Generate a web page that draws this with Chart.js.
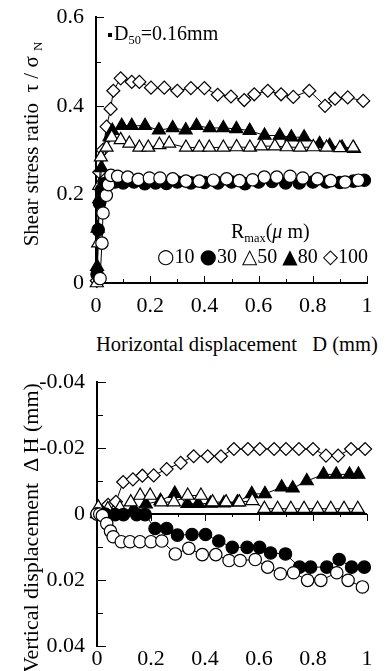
<!DOCTYPE html>
<html>
<head>
<meta charset="utf-8">
<script src="https://cdn.jsdelivr.net/npm/chart.js@4.4.1/dist/chart.umd.min.js"></script>
<style>
  html, body { margin: 0; padding: 0; background: #fff; }
  #wrap { position: relative; width: 392px; height: 671px; overflow: hidden;
          font-family: "Liberation Serif", "Times New Roman", serif; color: #000; }
  canvas { position: absolute; left: 0; }
  .lbl { position: absolute; white-space: nowrap; line-height: 1; font-size: 20px; }
  .rot { transform: translate(-50%, -50%) rotate(-90deg); }
  .sub { font-size: 62%; position: relative; top: 0.3em; }
  .sym { font-family: "DejaVu Sans", sans-serif; font-size: 20px; }
</style>
</head>
<body>
<div id="wrap">
  <canvas id="shear" width="392" height="330" style="top:0"></canvas>
  <canvas id="vert" width="392" height="311" style="top:360px"></canvas>

  <div class="lbl rot" style="left:31px; top:144px; font-size:21px;">Shear stress ratio&nbsp;&nbsp;τ&nbsp;/&nbsp;σ&nbsp;<span class="sub">N</span></div>
  <div class="lbl" style="left:108px; top:23px;"><span style="display:inline-block;width:4px;height:4px;background:#000;vertical-align:middle;margin-right:2px;"></span>D<span class="sub">50</span>=0.16mm</div>
  <div class="lbl" style="left:231px; top:221px;">R<span class="sub">max</span>(<i>μ</i> m)</div>
  <div class="lbl" id="legendRow" style="left:157px; top:246px;"></div>
  <div class="lbl" style="left:96px; top:334px; font-size:20.5px;">Horizontal displacement&nbsp;&nbsp;&nbsp;D (mm)</div>
  <div class="lbl rot" style="left:31px; top:528px; font-size:22px;">Vertical displacement&nbsp;&nbsp;Δ H (mm)</div>
</div>
<script>
// tick labels
const xLabels = ['0', '0.2', '0.4', '0.6', '0.8', '1'];
const shearLabels = ['0', '0.2', '0.4', '0.6'];
const vertLabels = ['-0.04', '-0.02', '0', '0.02', '0.04'];

// Rmax (um) series names
const rmaxValues = ['10', '30', '50', '80', '100'];
const legendGlyphs = ['○', '●', '△', '▲', '◇'];

// shear stress ratio vs horizontal displacement D (mm)
const shearD10 = [0.015, 0.022, 0.026, 0.038, 0.046, 0.055, 0.080, 0.117, 0.156, 0.197, 0.236, 0.283, 0.332, 0.381, 0.433, 0.482, 0.529, 0.578, 0.621, 0.667, 0.716, 0.763, 0.817, 0.866, 0.919, 0.968];
const shear10 = [0.010, 0.090, 0.158, 0.198, 0.222, 0.243, 0.241, 0.239, 0.234, 0.237, 0.237, 0.235, 0.230, 0.230, 0.232, 0.235, 0.231, 0.233, 0.239, 0.239, 0.241, 0.237, 0.235, 0.231, 0.228, 0.232];
const shearD30 = [0.004, 0.008, 0.013, 0.020, 0.030, 0.045, 0.070, 0.100, 0.140, 0.180, 0.220, 0.260, 0.300, 0.350, 0.400, 0.450, 0.500, 0.550, 0.600, 0.650, 0.700, 0.750, 0.800, 0.850, 0.900, 0.950, 0.990];
const shear30 = [0.020, 0.120, 0.180, 0.210, 0.224, 0.228, 0.228, 0.226, 0.228, 0.224, 0.226, 0.225, 0.228, 0.226, 0.227, 0.226, 0.228, 0.224, 0.228, 0.229, 0.226, 0.226, 0.228, 0.228, 0.227, 0.230, 0.232];
const shearD50 = [0.003, 0.008, 0.012, 0.018, 0.039, 0.058, 0.091, 0.123, 0.160, 0.193, 0.234, 0.270, 0.332, 0.381, 0.418, 0.470, 0.519, 0.568, 0.609, 0.660, 0.704, 0.753, 0.802, 0.851, 0.900, 0.949];
const shear50 = [0.000, 0.090, 0.220, 0.284, 0.306, 0.329, 0.323, 0.315, 0.306, 0.306, 0.312, 0.315, 0.306, 0.306, 0.306, 0.306, 0.307, 0.306, 0.309, 0.309, 0.307, 0.306, 0.307, 0.306, 0.305, 0.306];
const shearD80 = [0.004, 0.006, 0.012, 0.020, 0.050, 0.060, 0.095, 0.132, 0.181, 0.232, 0.283, 0.331, 0.371, 0.420, 0.470, 0.518, 0.567, 0.622, 0.678, 0.721, 0.768, 0.825, 0.862, 0.908, 0.952];
const shear80 = [0.037, 0.123, 0.190, 0.260, 0.330, 0.344, 0.355, 0.355, 0.355, 0.345, 0.350, 0.345, 0.355, 0.350, 0.350, 0.348, 0.344, 0.333, 0.333, 0.329, 0.329, 0.314, 0.310, 0.306, 0.303];
const shearD100 = [0.003, 0.012, 0.025, 0.039, 0.054, 0.064, 0.091, 0.132, 0.160, 0.203, 0.252, 0.300, 0.350, 0.400, 0.449, 0.498, 0.547, 0.584, 0.634, 0.683, 0.728, 0.787, 0.845, 0.882, 0.929, 0.986];
const shear100 = [0.005, 0.250, 0.300, 0.353, 0.393, 0.434, 0.462, 0.454, 0.454, 0.441, 0.441, 0.434, 0.440, 0.440, 0.425, 0.421, 0.413, 0.426, 0.434, 0.426, 0.420, 0.434, 0.400, 0.416, 0.419, 0.411];

// vertical displacement dH (mm) vs D (mm)
const vertD10 = [0.000, 0.010, 0.020, 0.036, 0.050, 0.060, 0.090, 0.122, 0.159, 0.200, 0.240, 0.290, 0.340, 0.390, 0.440, 0.489, 0.530, 0.586, 0.632, 0.679, 0.728, 0.780, 0.829, 0.888, 0.930, 0.983];
const vert10 = [0.0000, 0.0000, 0.0005, 0.0029, 0.0052, 0.0069, 0.0084, 0.0084, 0.0084, 0.0084, 0.0082, 0.0121, 0.0104, 0.0123, 0.0123, 0.0141, 0.0141, 0.0138, 0.0161, 0.0181, 0.0178, 0.0201, 0.0201, 0.0178, 0.0201, 0.0221];
const vertD30 = [0.000, 0.030, 0.067, 0.098, 0.147, 0.178, 0.215, 0.258, 0.298, 0.352, 0.402, 0.451, 0.501, 0.556, 0.602, 0.643, 0.698, 0.750, 0.791, 0.851, 0.897, 0.943, 0.990];
const vert30 = [0.0000, 0.0000, 0.0002, 0.0002, 0.0002, 0.0002, 0.0044, 0.0044, 0.0064, 0.0062, 0.0062, 0.0082, 0.0101, 0.0101, 0.0101, 0.0118, 0.0121, 0.0161, 0.0161, 0.0161, 0.0138, 0.0161, 0.0161];
const vertD50 = [0.005, 0.040, 0.085, 0.125, 0.160, 0.197, 0.238, 0.285, 0.336, 0.385, 0.428, 0.478, 0.527, 0.575, 0.620, 0.669, 0.718, 0.767, 0.817, 0.866, 0.915, 0.966];
const vert50 = [-0.0020, -0.0015, -0.0018, -0.0036, -0.0056, -0.0056, -0.0036, -0.0036, -0.0056, -0.0056, -0.0036, -0.0036, -0.0036, -0.0040, -0.0016, -0.0016, -0.0016, -0.0016, -0.0016, -0.0016, -0.0016, -0.0016];
const vertD80 = [0.000, 0.040, 0.090, 0.135, 0.181, 0.235, 0.288, 0.335, 0.375, 0.420, 0.470, 0.520, 0.573, 0.622, 0.684, 0.725, 0.777, 0.839, 0.886, 0.935, 0.968];
const vert80 = [0.0000, 0.0000, -0.0005, -0.0015, -0.0030, -0.0040, -0.0062, -0.0031, -0.0031, -0.0032, -0.0033, -0.0036, -0.0061, -0.0061, -0.0081, -0.0078, -0.0100, -0.0120, -0.0120, -0.0120, -0.0120];
const vertD100 = [0.000, 0.020, 0.041, 0.070, 0.097, 0.133, 0.168, 0.210, 0.258, 0.310, 0.358, 0.410, 0.459, 0.507, 0.559, 0.603, 0.656, 0.700, 0.748, 0.800, 0.848, 0.893, 0.941, 0.993];
const vert100 = [0.0000, -0.0005, -0.0028, -0.0037, -0.0097, -0.0105, -0.0116, -0.0117, -0.0136, -0.0155, -0.0175, -0.0175, -0.0175, -0.0197, -0.0197, -0.0197, -0.0197, -0.0197, -0.0197, -0.0197, -0.0177, -0.0177, -0.0197, -0.0197];

document.getElementById('legendRow').innerHTML = rmaxValues
  .map((v, i) => '<span class="sym">' + legendGlyphs[i] + '</span>' + v)
  .join(' ');

function pts(xs, ys) {
  return xs.map((x, i) => ({ x: x, y: ys[i] }));
}

// marker look per series: 10 open circle, 30 filled circle, 50 open triangle, 80 filled triangle, 100 open diamond
const styles = [
  { pointStyle: 'circle', fill: '#fff', radius: 6.2 },
  { pointStyle: 'circle', fill: '#000', radius: 6.2 },
  { pointStyle: 'triangle', fill: '#fff', radius: 7.5 },
  { pointStyle: 'triangle', fill: '#000', radius: 7.5 },
  { pointStyle: 'rectRot', fill: '#fff', radius: 6.5 }
];

function makeSets(series) {
  return series.map((s, i) => ({
    label: rmaxValues[i],
    data: s,
    showLine: true,
    borderColor: '#000',
    borderWidth: 1,
    tension: 0,
    pointStyle: styles[i].pointStyle,
    pointRadius: styles[i].radius,
    pointBackgroundColor: styles[i].fill,
    pointBorderColor: '#000',
    pointBorderWidth: 1.2,
    clip: false
  }));
}

function tickCb(list) {
  return (v) => {
    const hit = list.find(s => Math.abs(parseFloat(s) - v) < 1e-9);
    return hit === undefined ? '' : hit;
  };
}

// inward tick marks (and the zero line for the lower plot)
const inTicks = {
  id: 'inTicks',
  beforeDatasetsDraw(chart, args, o) {
    const ctx = chart.ctx, a = chart.chartArea;
    const xs = chart.scales.x, ys = chart.scales.y;
    ctx.save();
    ctx.strokeStyle = '#000';
    let base = a.bottom;
    if (o.zero) {
      base = Math.round(ys.getPixelForValue(0));
      ctx.lineWidth = 2;
      ctx.beginPath();
      ctx.moveTo(a.left, base);
      ctx.lineTo(a.right, base);
      ctx.stroke();
    }
    ctx.lineWidth = 1;
    ctx.beginPath();
    xs.ticks.forEach(t => {
      const px = Math.round(xs.getPixelForValue(t.value)) + 0.5;
      const len = t.label ? o.xLen[0] : o.xLen[1];
      ctx.moveTo(px, base);
      ctx.lineTo(px, base + o.xDir * len);
    });
    ys.ticks.forEach(t => {
      const py = Math.round(ys.getPixelForValue(t.value)) + 0.5;
      const len = t.label ? o.yLen[0] : o.yLen[1];
      ctx.moveTo(a.left, py);
      ctx.lineTo(a.left + len, py);
    });
    ctx.stroke();
    ctx.restore();
  }
};

const tickFont = { family: "'Liberation Serif', 'Times New Roman', serif", size: 22 };

const shearChart = new Chart(document.getElementById('shear'), {
  type: 'scatter',
  data: {
    datasets: makeSets([
      pts(shearD10, shear10), pts(shearD30, shear30), pts(shearD50, shear50),
      pts(shearD80, shear80), pts(shearD100, shear100)
    ])
  },
  options: {
    responsive: false,
    animation: false,
    devicePixelRatio: 1,
    layout: { padding: { left: 0, right: 25, top: 16, bottom: 0 } },
    plugins: {
      legend: { display: false },
      tooltip: { enabled: false },
      inTicks: { zero: false, xDir: -1, xLen: [7, 4], yLen: [8, 5] }
    },
    scales: {
      x: {
        type: 'linear', min: 0, max: 1,
        grid: { display: false },
        border: { display: true, color: '#000', width: 2 },
        ticks: { stepSize: 0.1, autoSkip: false, maxRotation: 0, color: '#000', font: tickFont, padding: 2, callback: tickCb(xLabels) },
        afterFit: (s) => { s.height = 47; }
      },
      y: {
        type: 'linear', min: 0, max: 0.6,
        grid: { display: false },
        border: { display: true, color: '#000', width: 2 },
        ticks: { stepSize: 0.1, autoSkip: false, color: '#000', font: tickFont, padding: 4, callback: tickCb(shearLabels) },
        afterFit: (s) => { s.width = 96; }
      }
    }
  },
  plugins: [inTicks]
});

const vertChart = new Chart(document.getElementById('vert'), {
  type: 'scatter',
  data: {
    datasets: makeSets([
      pts(vertD10, vert10), pts(vertD30, vert30), pts(vertD50, vert50),
      pts(vertD80, vert80), pts(vertD100, vert100)
    ])
  },
  options: {
    responsive: false,
    animation: false,
    devicePixelRatio: 1,
    layout: { padding: { left: 0, right: 25, top: 22, bottom: 0 } },
    plugins: {
      legend: { display: false },
      tooltip: { enabled: false },
      inTicks: { zero: true, xDir: 1, xLen: [7, 3], yLen: [9, 6] }
    },
    scales: {
      x: {
        type: 'linear', min: 0, max: 1,
        grid: { display: false },
        border: { display: false },
        ticks: { stepSize: 0.1, autoSkip: false, maxRotation: 0, color: '#000', font: tickFont, padding: -8, callback: tickCb(xLabels) },
        afterFit: (s) => { s.height = 25; }
      },
      y: {
        type: 'linear', min: -0.04, max: 0.04, reverse: true,
        grid: { display: false },
        border: { display: true, color: '#000', width: 2 },
        ticks: { stepSize: 0.01, autoSkip: false, color: '#000', font: tickFont, padding: 4, callback: tickCb(vertLabels) },
        afterFit: (s) => { s.width = 97; }
      }
    }
  },
  plugins: [inTicks]
});
</script>
</body>
</html>
